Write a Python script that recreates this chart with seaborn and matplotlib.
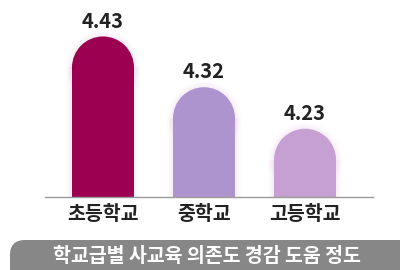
import matplotlib
matplotlib.use("Agg")
import matplotlib.pyplot as plt
from matplotlib.patches import Ellipse, FancyBboxPatch
import seaborn as sns
import pandas as pd

# ── Data ──────────────────────────────────────────────────────────────────────
levels = ["초등학교", "중학교", "고등학교"]
scores = [4.43, 4.32, 4.23]
bar_colors = ["#9C0050", "#AE94CE", "#C7A0D3"]
title_text = "학교급별 사교육 의존도 경감 도움 정도"

# ── Style ─────────────────────────────────────────────────────────────────────
sns.set_style("white")
plt.rcParams["font.family"] = ["Noto Sans CJK KR", "DejaVu Sans"]

W, H, DPI = 400, 270, 100
fig = plt.figure(figsize=(W / DPI, H / DPI), dpi=DPI)
fig.patch.set_facecolor("white")

# axes box in pixels: left 45, right 373, baseline at y=197 from top
ax = fig.add_axes([45 / W, (H - 197) / H, 328 / W, 197 / H])
df = pd.DataFrame({"level": levels, "score": scores})
sns.barplot(data=df, x="level", y="score", hue="level", palette=bar_colors,
            width=0.614, legend=False, ax=ax, saturation=1)

ymin, ymax = 4.082, 4.509
ax.set_ylim(ymin, ymax)
ax.set_xlim(-0.574, 2.673)

# rounded caps: turn each bar into a pill shape
px_per_y = 197 / (ymax - ymin)
px_per_x = 328 / (2.673 + 0.574)
for patch, col in zip(ax.patches, bar_colors):
    x0, w = patch.get_x(), patch.get_width()
    top = patch.get_y() + patch.get_height()
    r_px = w * px_per_x / 2
    r_y = r_px / px_per_y
    patch.set_y(ymin - 0.01)
    patch.set_height(top - r_y - (ymin - 0.01))
    patch.set_edgecolor("none")
    patch.set_zorder(3)
    # soft glow
    for k, a in [(6, 0.05), (4, 0.07), (2, 0.09)]:
        ax.add_patch(FancyBboxPatch((x0 - k / px_per_x, ymin), w + 2 * k / px_per_x,
                                    top - ymin - r_y,
                                    boxstyle="square,pad=0", color="#E0B8D8",
                                    alpha=a, lw=0, zorder=1))
        ax.add_patch(Ellipse((x0 + w / 2, top - r_y), w + 2 * k / px_per_x,
                             2 * r_y + 2 * k / px_per_y, color="#E0B8D8",
                             alpha=a, lw=0, zorder=1))
    ax.add_patch(Ellipse((x0 + w / 2, top - r_y), w, 2 * r_y,
                         color=col, lw=0, zorder=3))

for i, v in enumerate(scores):
    ax.annotate(f"{v:.2f}", xy=(i, v), xytext=(0, 3.5), textcoords="offset points",
                ha="center", va="bottom", fontsize=14.5, fontweight="bold",
                color="#222222")

ax.set_xlabel("")
ax.set_ylabel("")
ax.set_yticks([])
ax.tick_params(axis="x", length=0, pad=6)
ax.set_xticks(range(len(levels)))
ax.set_xticklabels(levels, fontsize=14, fontweight="bold", color="#222222")
for s in ["top", "right", "left"]:
    ax.spines[s].set_visible(False)
ax.spines["bottom"].set_color("#9A9A9A")
ax.spines["bottom"].set_linewidth(1.0)
ax.spines["bottom"].set_zorder(4)

# ── Bottom banner ─────────────────────────────────────────────────────────────
bax = fig.add_axes([0, 0, 1, 1], zorder=-1)
bax.set_xlim(0, W)
bax.set_ylim(H, 0)
bax.axis("off")
bax.add_patch(FancyBboxPatch((10, 240), 420, 50,
                             boxstyle="round,pad=0,rounding_size=15",
                             facecolor="#878787", edgecolor="none"))
bax.text(207, 256, title_text, ha="center", va="center", fontsize=14,
         fontweight="bold", color="white")

fig.savefig("out.png", dpi=DPI)
